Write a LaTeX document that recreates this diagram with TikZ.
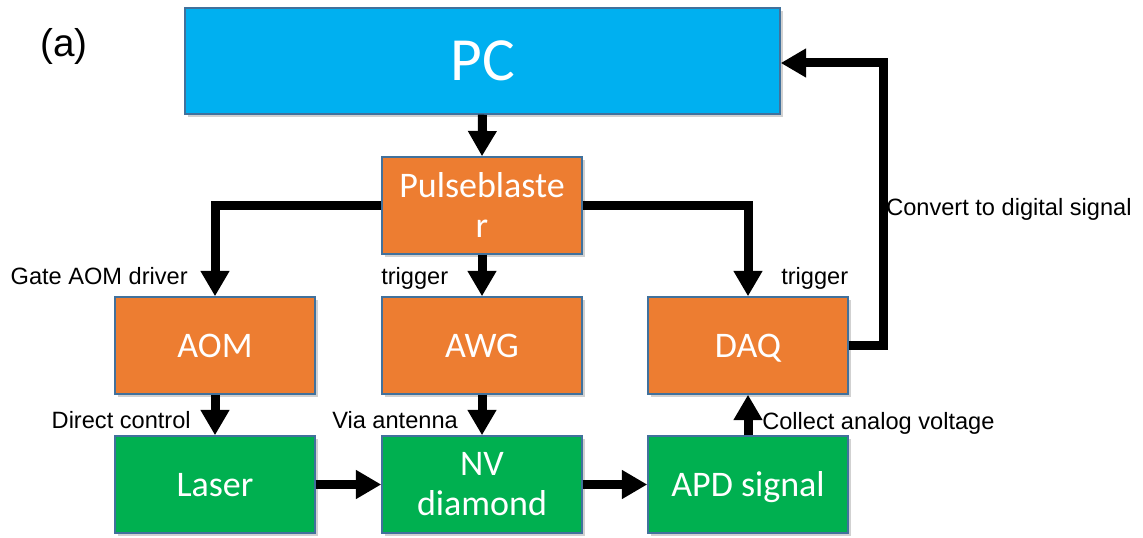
\documentclass[tikz,border=0pt]{standalone}
\usepackage{fontspec}
\setmainfont{Liberation Sans}
\newfontfamily\boxfont{Carlito}
\usetikzlibrary{arrows.meta,shadows}
\definecolor{pcblue}{HTML}{00B0F0}
\definecolor{orangebox}{HTML}{ED7D31}
\definecolor{greenbox}{HTML}{00B050}
\definecolor{edgeblue}{HTML}{41719C}
\tikzset{
  blk/.style={draw=edgeblue, line width=1.1pt, text=white, align=center,
    minimum width=150pt, minimum height=72.75pt, inner sep=0pt,
    font=\boxfont\fontsize{27}{30}\selectfont,
    drop shadow={shadow xshift=2pt, shadow yshift=-2pt, opacity=0.3, fill=black!60}},
  oneline/.style={text height=17.4pt, text depth=0pt},
  orangeblk/.style={blk, fill=orangebox},
  greenblk/.style={blk, fill=greenbox},
  conn/.style={line width=6.75pt, -{Triangle[length=19pt, width=20.5pt]}},
  lbl/.style={font=\fontsize{17.7}{20}\selectfont, inner sep=0pt}
}
\begin{document}
\begin{tikzpicture}[x=0.75pt,y=-0.75pt]
\useasboundingbox (0,0) rectangle (1143,538);
\node[lbl, anchor=base west, font=\fontsize{29}{32}\selectfont] (lab) at (40,57) {(a)};
\node[blk, fill=pcblue, minimum width=446.25pt, minimum height=79.5pt,
  text height=29.6pt, text depth=0pt,
  font=\boxfont\fontsize{46}{50}\selectfont] (pc) at (482.5,61) {PC};
\node[orangeblk] (pb) at (482,205.5) {Pulseblaste\\r};
\node[orangeblk, oneline] (aom) at (215,345.5) {AOM};
\node[orangeblk, oneline] (awg) at (482,345.5) {AWG};
\node[orangeblk, oneline] (daq) at (748,345.5) {DAQ};
\node[greenblk, oneline] (laser) at (215,484.5) {Laser};
\node[greenblk] (nv) at (482,484.5) {NV\\diamond};
\node[greenblk, oneline] (apd) at (748,484.5) {APD signal};
\coordinate (ret) at (883,63);
\draw[conn] (pc.south) -- (pb.north);
\draw[conn] (pb.west) -| (aom.north);
\draw[conn] (pb.south) -- (awg.north);
\draw[conn] (pb.east) -| (daq.north);
\draw[conn] (aom.south) -- (laser.north);
\draw[conn] (awg.south) -- (nv.north);
\draw[conn] (apd.north) -- (daq.south);
\draw[conn] (laser.east) -- (nv.west);
\draw[conn] (nv.east) -- (apd.west);
\draw[conn] (daq.east) -| (ret) -- (pc.east |- ret);
\node[lbl, anchor=base east] (l1) at (188,285) {Gate AOM driver};
\node[lbl, anchor=base west] (l2) at (381,285) {trigger};
\node[lbl, anchor=base west] (l3) at (781,285) {trigger};
\node[lbl, anchor=base east] (l4) at (191,428) {Direct control};
\node[lbl, anchor=base west] (l5) at (332,428) {Via antenna};
\node[lbl, anchor=base west] (l6) at (762,429) {Collect analog voltage};
\node[lbl, anchor=base west] (l7) at (886,216) {Convert to digital signal};
\end{tikzpicture}
\end{document}
